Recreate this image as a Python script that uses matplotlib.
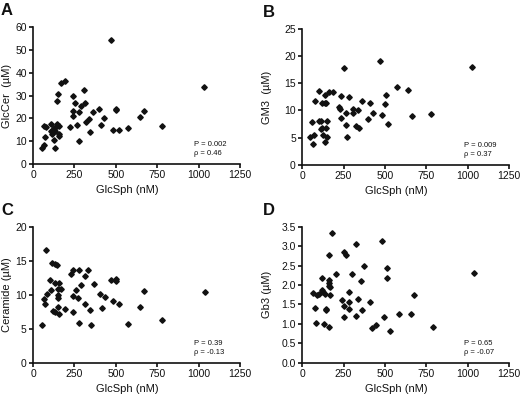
import matplotlib.pyplot as plt
import matplotlib.ticker as mticker

plt.rcParams['font.family'] = ['Liberation Sans', 'DejaVu Sans']

# GlcSph (nM) vs lipid levels
glcsph_a = [54, 68, 74, 64, 80, 107, 111, 117, 123, 127, 129, 133, 135, 143,
            145, 147, 149, 155, 155, 157, 167, 193, 223, 240, 240, 240, 254,
            268, 276, 280, 288, 310, 312, 322, 336, 346, 364, 398, 411, 431,
            471, 483, 499, 501, 517, 574, 648, 668, 781, 1035]
glccer = [6.9, 8.3, 11.7, 16.5, 16.4, 17.7, 14.6, 13.3, 14.6, 15.9, 10.7, 7.2,
          14.3, 17.7, 16.8, 27.4, 30.7, 16.8, 12.1, 13.0, 35.5, 36.2, 16.1,
          29.6, 23.4, 21.0, 26.9, 16.9, 22.8, 9.9, 25.3, 32.4, 26.6, 18.4,
          19.7, 14.0, 22.9, 24.2, 16.9, 20.0, 54.2, 14.7, 23.8, 24.2, 15.0,
          15.9, 20.4, 23.2, 16.5, 33.9]

glcsph_b = [49, 59, 70, 64, 78, 100, 102, 113, 113, 123, 123, 127, 139, 139,
            145, 148, 141, 143, 152, 160, 187, 221, 230, 234, 236, 250, 266,
            268, 272, 285, 308, 310, 324, 338, 344, 363, 396, 410, 428, 471,
            484, 504, 502, 521, 571, 639, 665, 778, 1029]
gm3 = [5.1, 7.9, 5.5, 3.9, 11.8, 13.5, 8.0, 8.1, 6.5, 6.8, 11.4, 5.4, 12.9,
       11.4, 11.4, 8.1, 4.2, 6.8, 5.1, 13.4, 13.4, 10.7, 10.2, 8.7, 12.6, 17.9,
       9.5, 7.3, 5.2, 12.4, 10.2, 9.6, 7.1, 10.1, 6.8, 11.7, 8.4, 11.4, 9.5,
       19.1, 9.1, 12.9, 11.2, 7.6, 14.4, 13.8, 9.0, 9.3, 18.1]

glcsph_c = [57, 69, 73, 77, 87, 105, 111, 117, 132, 121, 132, 132, 146, 148,
            150, 150, 156, 158, 152, 166, 194, 229, 243, 239, 241, 257, 275,
            273, 275, 291, 314, 316, 330, 344, 350, 366, 403, 415, 435, 473,
            486, 504, 504, 522, 576, 648, 668, 781, 1037]
ceramide = [5.6, 9.3, 8.6, 16.6, 10.1, 12.1, 10.7, 14.7, 14.6, 7.6, 11.8, 7.5,
            14.4, 10.0, 9.5, 8.2, 7.2, 11.7, 10.9, 10.8, 7.9, 13.0, 13.7, 9.8,
            7.5, 10.7, 13.6, 9.5, 5.9, 11.5, 12.7, 8.6, 13.7, 7.8, 5.6, 11.6,
            10.1, 8.1, 9.6, 12.1, 9.1, 12.3, 12.0, 8.6, 5.7, 8.2, 10.6, 6.3,
            10.4]

glcsph_d = [66, 78, 85, 89, 99, 121, 123, 129, 135, 137, 143, 145, 161, 163,
            165, 163, 167, 169, 165, 179, 205, 241, 251, 251, 251, 266, 286,
            286, 286, 302, 324, 326, 338, 356, 360, 376, 410, 423, 447, 483,
            495, 513, 512, 531, 587, 655, 675, 792, 1039]
gb3 = [1.79, 1.42, 1.03, 1.75, 1.76, 2.17, 1.86, 1.83, 0.99, 1.76, 1.37, 1.35,
       2.77, 2.12, 2.06, 1.97, 1.95, 1.73, 0.92, 3.33, 2.28, 1.62, 2.86, 1.45,
       1.18, 2.77, 1.83, 1.57, 1.38, 2.28, 3.05, 1.20, 1.64, 2.10, 1.35, 2.48,
       1.57, 0.88, 0.98, 3.13, 1.18, 2.44, 2.19, 0.81, 1.26, 1.26, 1.74, 0.91,
       2.32]

panels = [
    ('A', glcsph_a, glccer, 'GlcCer  (\u00b5M)', 60, 10, 'P = 0.002', '\u03c1 = 0.46'),
    ('B', glcsph_b, gm3, 'GM3  (\u00b5M)', 25, 5, 'P = 0.009', '\u03c1 = 0.37'),
    ('C', glcsph_c, ceramide, 'Ceramide (\u00b5M)', 20, 5, 'P = 0.39', '\u03c1 = -0.13'),
    ('D', glcsph_d, gb3, 'Gb3 (\u00b5M)', 3.5, 0.5, 'P = 0.65', '\u03c1 = -0.07'),
]

positions = [
    [0.0635, 0.588, 0.398, 0.344],
    [0.581, 0.586, 0.398, 0.341],
    [0.0635, 0.089, 0.398, 0.341],
    [0.581, 0.089, 0.398, 0.341],
]

ink = '#111111'
fig = plt.figure(figsize=(5.2, 3.98), dpi=100)

for i, (letter, x, y, ylabel, ymax, ystep, ptxt, rtxt) in enumerate(panels):
    ax = fig.add_axes(positions[i])
    ax.plot(x, y, linestyle='none', marker='D', markersize=2.8,
            color=ink, clip_on=False)
    ax.set_xlim(0, 1250)
    ax.set_ylim(0, ymax)
    ax.xaxis.set_major_locator(mticker.MultipleLocator(250))
    ax.yaxis.set_major_locator(mticker.MultipleLocator(ystep))
    if letter == 'D':
        ax.yaxis.set_major_formatter(mticker.FormatStrFormatter('%.1f'))
    for side in ['top', 'right']:
        ax.spines[side].set_visible(False)
    for side in ['left', 'bottom']:
        ax.spines[side].set_color(ink)
        ax.spines[side].set_linewidth(1.2)
    ax.tick_params(direction='out', length=3, width=1.2, color=ink,
                   labelsize=7.5, labelcolor=ink, pad=1.5)
    ax.set_xlabel('GlcSph (nM)', fontsize=8, color=ink)
    ax.set_ylabel(ylabel, fontsize=8, color=ink)
    ax.xaxis.set_label_coords(0.455, -0.155)
    if i % 2 == 0:
        ax.yaxis.set_label_coords(-0.10, 0.5)
    else:
        ax.yaxis.set_label_coords(-0.145, 0.5)
    ax.text(0.78, 0.139, ptxt, transform=ax.transAxes, fontsize=5.5,
            color=ink, va='center')
    ax.text(0.78, 0.073, rtxt, transform=ax.transAxes, fontsize=5.5,
            color=ink, va='center')
    ax.text(-0.155 if i % 2 == 0 else -0.19, 1.12, letter,
            transform=ax.transAxes, fontsize=12, fontweight='bold',
            color=ink, va='center', ha='left')

fig.savefig('out.png', dpi=100)
